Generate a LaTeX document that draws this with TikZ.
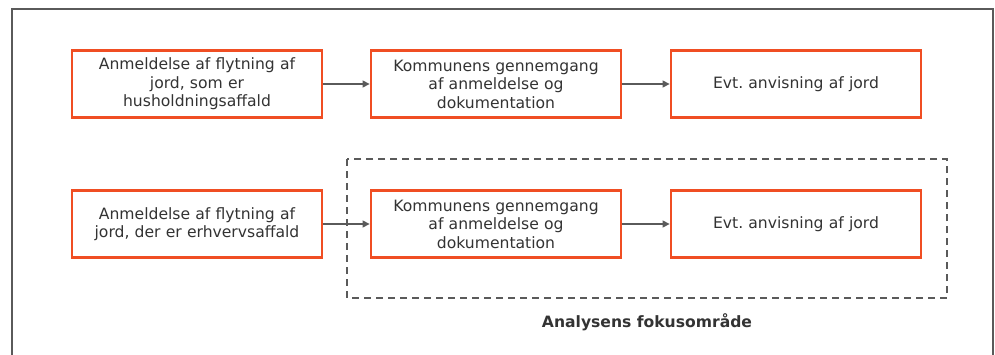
\documentclass[tikz,border=0pt]{standalone}
\usepackage{fontspec}
\setmainfont{DejaVu Sans}
\usetikzlibrary{arrows.meta}
\definecolor{boxorange}{HTML}{F04E23}
\definecolor{linegray}{HTML}{5A5A5A}
\definecolor{textgray}{HTML}{333333}
\begin{document}
\begin{tikzpicture}[x=1pt,y=-1pt]
\useasboundingbox (0,0) rectangle (995,354);
\draw [linegray, line width=2pt] (12,360) -- (12,9) -- (993,9) -- (993,360);
\draw [linegray, line width=1.6pt, dash pattern=on 7pt off 5pt] (347,159) rectangle (947,298);
\begin{scope}[every node/.style={draw=boxorange,line width=2.8pt,fill=white,text=textgray,minimum width=250pt,minimum height=67pt,text width=240pt,align=center,font=\fontsize{15.6}{18.5}\selectfont}]
	\node (A1) at (197,84) {Anmeldelse af flytning af\\jord, som er\\husholdningsaffald};
	\node (B1) at (496,84) {Kommunens gennemgang\\af anmeldelse og\\dokumentation};
	\node (C1) at (796,84) {Evt.\ anvisning af jord};
	\node (A2) at (197,224) {Anmeldelse af flytning af\\jord, der er erhvervsaffald};
	\node (B2) at (496,224) {Kommunens gennemgang\\af anmeldelse og\\dokumentation};
	\node (C2) at (796,224) {Evt.\ anvisning af jord};
\end{scope}
\node (focus) at (647,322) [text=textgray,font=\fontsize{15.6}{18}\selectfont\bfseries] {Analysens fokusområde};

\begin{scope}[every edge/.style={draw=linegray,line width=1.2pt}]
	\path [-{Triangle[length=7pt,width=7pt]}] (A1) edge (B1);
	\path [-{Triangle[length=7pt,width=7pt]}] (B1) edge (C1);
	\path [-{Triangle[length=7pt,width=7pt]}] (A2) edge (B2);
	\path [-{Triangle[length=7pt,width=7pt]}] (B2) edge (C2);
\end{scope}
\end{tikzpicture}
\end{document}
